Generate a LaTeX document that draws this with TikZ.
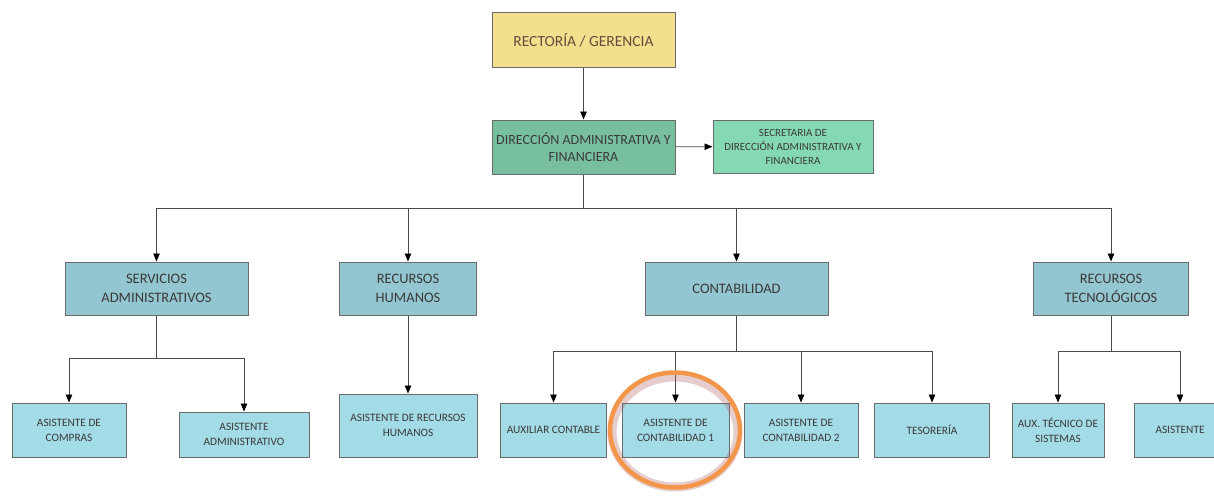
\documentclass[tikz,border=0pt]{standalone}
\usepackage{fontspec}
\setmainfont{Carlito}
\usetikzlibrary{arrows.meta}

\definecolor{rectfill}{HTML}{F3E08F}
\definecolor{dirfill}{HTML}{78BFA0}
\definecolor{secfill}{HTML}{85D9B2}
\definecolor{areafill}{HTML}{93C6D0}
\definecolor{cargofill}{HTML}{A3DBE6}
\definecolor{boxline}{HTML}{6B6B6B}
\definecolor{connline}{HTML}{4A4A4A}
\definecolor{txt}{HTML}{3A3A3A}
\definecolor{recttxt}{HTML}{6A4B3A}
\definecolor{ring}{HTML}{F4964A}
\definecolor{ringglow}{HTML}{A85A5A}

\tikzset{
  box/.style={draw=boxline, line width=1pt, align=center, inner sep=2pt, text=txt},
  top/.style={box, fill=rectfill, text=recttxt, minimum width=183, minimum height=54,
    font=\fontsize{15.5}{18}\selectfont},
  direc/.style={box, fill=dirfill, minimum width=183, minimum height=54,
    font=\fontsize{14}{17}\selectfont},
  secre/.style={box, fill=secfill, minimum width=160, minimum height=53,
    font=\fontsize{11}{14}\selectfont},
  area/.style={box, fill=areafill, minimum height=53,
    font=\fontsize{14.5}{19}\selectfont},
  cargo/.style={box, fill=cargofill, minimum height=54,
    font=\fontsize{11.3}{15}\selectfont},
  wire/.style={draw=connline, line width=0.9pt},
  conn/.style={wire, -{Triangle[width=6.5pt,length=8pt,color=black]}},
}

\begin{document}
\begin{tikzpicture}[x=1pt,y=1pt]
%\draw[step=50,gray,very thin] (0,0) grid (1214,-495); %background grid
\useasboundingbox (0,0) rectangle (1214,-495);

% top
\node[top] (rect) at (583.5,-40) {RECTORÍA / GERENCIA};
\node[direc] (dir) at (583.5,-147) {DIRECCIÓN ADMINISTRATIVA Y\\FINANCIERA};
\node[secre] (sec) at (793,-146.5) {SECRETARIA DE\\DIRECCIÓN ADMINISTRATIVA Y\\FINANCIERA};

% areas
\node[area, minimum width=183] (serv) at (156.5,-288.5) {SERVICIOS\\ADMINISTRATIVOS};
\node[area, minimum width=137] (rh) at (408,-288.5) {RECURSOS\\HUMANOS};
\node[area, minimum width=183] (cont) at (736.5,-288.5) {CONTABILIDAD};
\node[area, minimum width=155] (rt) at (1111,-288.5) {RECURSOS\\TECNOLÓGICOS};

% cargos
\node[cargo, minimum width=114] (compras) at (69,-430) {ASISTENTE DE\\COMPRAS};
\node[cargo, minimum width=130, minimum height=45] (adm) at (244,-434.5) {ASISTENTE\\ADMINISTRATIVO};
\node[cargo, minimum width=138, minimum height=63] (arh) at (408,-425.5) {ASISTENTE DE RECURSOS\\HUMANOS};
\node[cargo, minimum width=106] (aux) at (553.5,-430) {AUXILIAR CONTABLE};
\node[cargo, minimum width=107] (ac1) at (675.5,-430) {ASISTENTE DE\\CONTABILIDAD 1};
\node[cargo, minimum width=114] (ac2) at (801,-430) {ASISTENTE DE\\CONTABILIDAD 2};
\node[cargo, minimum width=115] (teso) at (932,-430) {TESORERÍA};
\node[cargo, minimum width=92] (ats) at (1058,-430) {AUX. TÉCNICO DE\\SISTEMAS};
\node[cargo, minimum width=92] (asis) at (1180,-430) {ASISTENTE};

% buses
\coordinate (bus1) at (583.5,-208);
\coordinate (bus2) at (156.5,-358);
\coordinate (bus3) at (736.5,-351);
\coordinate (bus4) at (1111,-351);

\draw[conn] (rect) -- (dir);
\draw[conn] (dir) -- (sec);

\draw[wire] (dir.south) -- (bus1);
\draw[conn] (bus1) -| (serv.north);
\draw[conn] (bus1) -| (rh.north);
\draw[conn] (bus1) -| (cont.north);
\draw[conn] (bus1) -| (rt.north);

\draw[wire] (serv.south) -- (bus2);
\draw[conn] (bus2) -| (compras.north);
\draw[conn] (bus2) -| (adm.north);

\draw[conn] (rh) -- (arh);

\draw[wire] (cont.south) -- (bus3);
\draw[conn] (bus3) -| (aux.north);
\draw[conn] (bus3) -| (ac1.north);
\draw[conn] (bus3) -| (ac2.north);
\draw[conn] (bus3) -| (teso.north);

\draw[wire] (rt.south) -- (bus4);
\draw[conn] (bus4) -| (ats.north);
\draw[conn] (bus4) -| (asis.north);

% highlight
\draw[ringglow, opacity=.3, line width=9pt] (675,-432) ellipse [x radius=63, y radius=55];
\draw[ring, line width=4.5pt] (675,-430) ellipse [x radius=65, y radius=57.5];
\end{tikzpicture}
\end{document}
